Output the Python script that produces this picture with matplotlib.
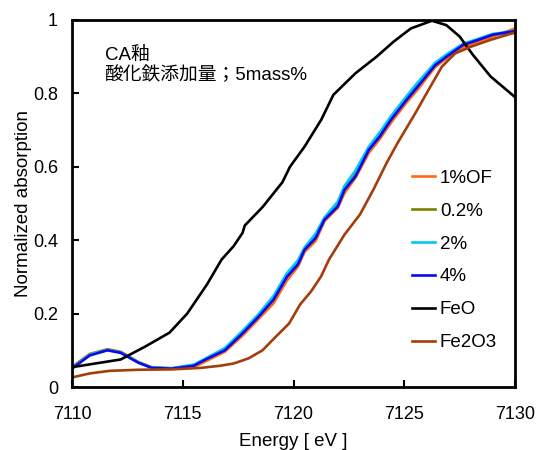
import matplotlib
matplotlib.use("Agg")
import matplotlib.pyplot as plt

plt.rcParams['font.family'] = ['Liberation Sans', 'Noto Sans CJK JP']

# Energy grids
e_feo = [7110, 7112.2, 7113.3, 7114.4, 7115.2, 7116.1, 7116.75, 7117.3, 7117.7, 7117.8,
         7118.6, 7119.5, 7119.84, 7120.5, 7121.25, 7121.8, 7122.8, 7123.75, 7124.5,
         7125.3, 7126.25, 7126.9, 7127.5, 7128.1, 7128.9, 7130]
feo = [0.054, 0.075, 0.11, 0.148, 0.20, 0.28, 0.347, 0.384, 0.42, 0.44,
       0.49, 0.558, 0.60, 0.655, 0.728, 0.796, 0.855, 0.90, 0.94,
       0.977, 0.998, 0.986, 0.955, 0.905, 0.846, 0.79]

e_fe2o3 = [7110, 7110.8, 7111.7, 7113, 7114.5, 7115.8, 7116.7, 7117.3, 7117.97, 7118.6,
           7119.2, 7119.8, 7120.3, 7120.8, 7121.25, 7121.6, 7122.3, 7123, 7123.6, 7124.2,
           7124.7, 7125.5, 7126.1, 7126.7, 7127.3, 7128, 7128.9, 7130]
fe2o3 = [0.026, 0.037, 0.044, 0.047, 0.048, 0.052, 0.058, 0.064, 0.078, 0.100,
         0.137, 0.173, 0.225, 0.261, 0.302, 0.347, 0.415, 0.47, 0.537, 0.61,
         0.665, 0.746, 0.81, 0.873, 0.909, 0.927, 0.946, 0.966]

e_s = [7110, 7110.8, 7111.6, 7112.2, 7113, 7113.6, 7114.5, 7115.5, 7116.1, 7116.9,
       7117.7, 7118.4, 7119.1, 7119.7, 7120.2, 7120.5, 7121, 7121.4, 7122, 7122.3,
       7122.8, 7123.4, 7123.9, 7124.4, 7125.1, 7125.6, 7126.4, 7127, 7127.65, 7128.3,
       7129, 7130]
s_4 = [0.05, 0.086, 0.10, 0.093, 0.066, 0.052, 0.05, 0.058, 0.077, 0.100,
       0.146, 0.19, 0.238, 0.30, 0.334, 0.374, 0.406, 0.456, 0.492, 0.537,
       0.574, 0.646, 0.683, 0.728, 0.782, 0.818, 0.877, 0.904, 0.932, 0.945,
       0.96, 0.97]
s_2 = [0.052, 0.088, 0.101, 0.094, 0.067, 0.053, 0.051, 0.061, 0.080, 0.106,
       0.153, 0.197, 0.248, 0.31, 0.345, 0.38, 0.418, 0.462, 0.505, 0.548,
       0.59, 0.655, 0.694, 0.738, 0.792, 0.829, 0.884, 0.91, 0.935, 0.948,
       0.962, 0.97]
s_02 = [0.053, 0.089, 0.102, 0.095, 0.067, 0.053, 0.051, 0.059, 0.078, 0.102,
        0.148, 0.192, 0.245, 0.305, 0.338, 0.376, 0.412, 0.458, 0.5, 0.543,
        0.585, 0.65, 0.69, 0.733, 0.786, 0.822, 0.878, 0.905, 0.932, 0.946,
        0.96, 0.965]
s_1of = [0.055, 0.09, 0.103, 0.096, 0.068, 0.054, 0.05, 0.054, 0.072, 0.096,
         0.140, 0.184, 0.228, 0.29, 0.328, 0.368, 0.398, 0.452, 0.488, 0.528,
         0.57, 0.638, 0.676, 0.72, 0.775, 0.81, 0.872, 0.9, 0.925, 0.94,
         0.955, 0.977]

series = [
    ("1%OF", e_s, s_1of, "#ff6a13"),
    ("0.2%", e_s, s_02, "#808000"),
    ("2%", e_s, s_2, "#00c8f0"),
    ("4%", e_s, s_4, "#0a0aee"),
    ("FeO", e_feo, feo, "#000000"),
    ("Fe2O3", e_fe2o3, fe2o3, "#a33d0a"),
]

x_ticks = [7110, 7115, 7120, 7125, 7130]
y_ticks = [0, 0.2, 0.4, 0.6, 0.8, 1.0]
y_labels = ["0", "0.2", "0.4", "0.6", "0.8", "1"]

fig = plt.figure(figsize=(5.43, 4.5), dpi=100)
ax = fig.add_axes([72/543, 1-387/450, (515-72)/543, (387-20)/450])

for label, x, y, c in series:
    ax.plot(x, y, color=c, lw=1.9, label=label)

ax.set_xlim(7110, 7130)
ax.set_ylim(0, 1)
ax.set_xticks(x_ticks)
ax.set_yticks(y_ticks)
ax.set_yticklabels(y_labels)
ax.tick_params(direction='in', length=5, width=1.5, labelsize=13)
ax.tick_params(axis='x', pad=14)
ax.tick_params(axis='y', pad=10)
for s in ax.spines.values():
    s.set_linewidth(2)
ax.set_xlabel("Energy [ eV ]", fontsize=13.5, labelpad=7)
ax.set_ylabel("Normalized absorption", fontsize=13.5, labelpad=1)

ax.text(0.075, 0.925, "CA釉\n酸化鉄添加量；5mass%", transform=ax.transAxes,
        fontsize=13.5, va='top', ha='left', linespacing=1.1)

leg = ax.legend(loc='upper left', bbox_to_anchor=(0.767, 0.592), frameon=False,
                fontsize=13.5, handlelength=1.25, handletextpad=0.25,
                labelspacing=0.84, borderpad=0, borderaxespad=0)

fig.savefig("out.png", dpi=100)
